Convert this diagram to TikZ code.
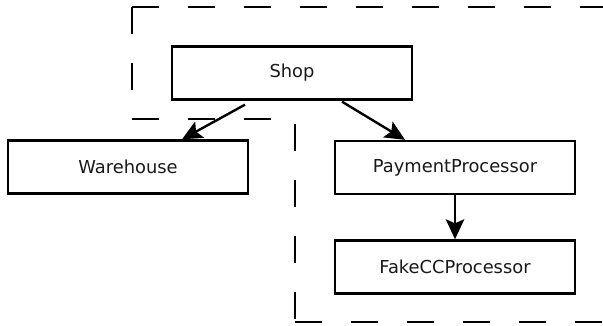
\documentclass[tikz,border=0pt]{standalone}
\usepackage{fontspec}
\setmainfont{DejaVu Sans}
\usetikzlibrary{calc,arrows.meta}

\begin{document}
\begin{tikzpicture}[x=0.025cm,y=-0.025cm,
  box/.style={draw,line width=1.8pt,minimum width=6cm,minimum height=1.32cm,inner sep=0pt,
    text=black!90,font=\fontsize{12.7}{15}\selectfont},
  frame/.style={line width=2pt,dash pattern=on 0.68cm off 0.72cm},
  dep/.style={line width=1.7pt,-{Stealth[length=0.5cm,width=0.46cm,inset=0.1cm]}}]
\useasboundingbox (0,0) rectangle (603,326);

% Frame
\draw[frame] (132,7) -- (612,7);
\draw[frame] (132,7) -- (132,119);
\draw[frame] (132,119) -- (295,119) -- (295,322);
\draw[frame] (295,322) -- (612,322);

% Classes
\node[box] (shop) at (292,73) {Shop};
\node[box] (warehouse) at (128,167) {Warehouse};
\node[box] (payment) at (455,167.5) {PaymentProcessor};
\node[box] (fakecc) at (455,267) {FakeCCProcessor};

% Dependencies
\draw[dep] ($(shop.south)+(-47,4)$) -- ($(warehouse.north)+(54,0)$);
\draw[dep] ($(shop.south)+(50,1)$) -- ($(payment.north)+(-50,0)$);
\draw[dep] (payment.south) -- (fakecc.north);
\end{tikzpicture}
\end{document}
